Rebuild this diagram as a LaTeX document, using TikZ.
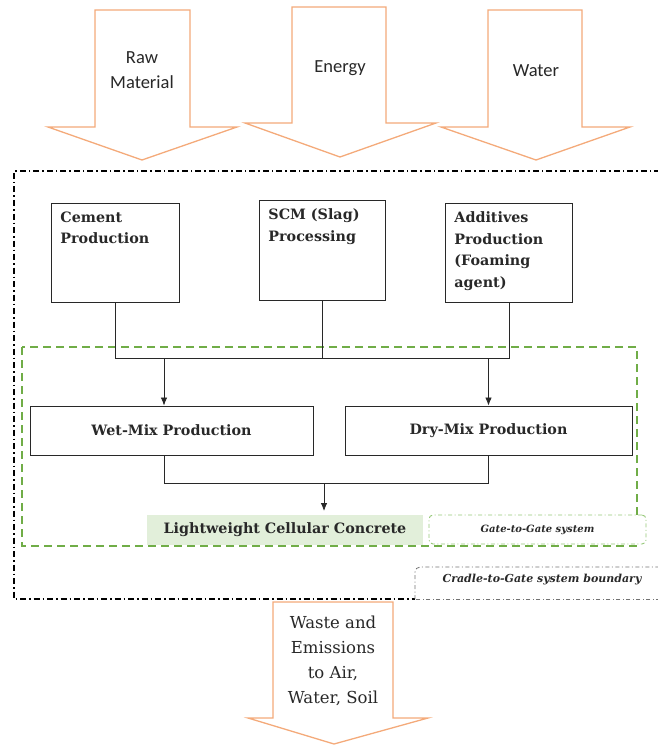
\documentclass[tikz,border=0pt]{standalone}
\usepackage{fontspec}
\setmainfont{DejaVu Serif}
\newfontfamily\arrowfont{Carlito}
\usetikzlibrary{arrows.meta,calc}
\definecolor{flow}{RGB}{244,170,122}
\definecolor{gategreen}{RGB}{112,173,71}
\definecolor{gatelabel}{RGB}{150,200,120}
\definecolor{lccfill}{RGB}{226,239,218}
\definecolor{ink}{RGB}{40,40,40}

\begin{document}
\begin{tikzpicture}[x=1pt,y=-1pt,
  flowarrow/.style={draw=flow,fill=white,line width=1.3pt,line join=miter},
  flowtext/.style={font=\arrowfont\fontsize{18.5}{24.5}\selectfont,align=center,text=ink},
  wastetext/.style={font=\fontsize{16.5}{25}\selectfont,align=center,text=ink},
  stage/.style={draw=ink,line width=0.9pt,anchor=north west,inner xsep=9pt,inner ysep=8pt,
    font=\bfseries\fontsize{14.3}{21.8}\selectfont,text=ink},
  mix/.style={draw=ink,line width=0.9pt,font=\bfseries\fontsize{14.3}{16}\selectfont,text=ink},
  link/.style={draw=ink,line width=0.8pt},
  feed/.style={link,-{Latex[length=8pt,width=6.5pt]}},
  cradlebound/.style={draw=black,line width=1.7pt,dash pattern=on 6pt off 3pt on 1.5pt off 3pt},
  cradlelabel/.style={draw=black!55,line width=0.8pt,dash pattern=on 4pt off 2.5pt on 1pt off 2.5pt},
  gatebound/.style={draw=gategreen,line width=1.7pt,dash pattern=on 8pt off 5pt},
  gatelabelbox/.style={draw=gatelabel,fill=white,line width=0.9pt,rounded corners=4pt,
    dash pattern=on 4pt off 2.5pt on 1pt off 2.5pt,minimum width=217pt,minimum height=29pt,
    font=\bfseries\itshape\fontsize{10}{12}\selectfont,text=ink},
  lcc/.style={fill=lccfill,minimum width=276pt,minimum height=30pt,
    font=\bfseries\fontsize{14.3}{16}\selectfont,text=ink}
]
\useasboundingbox (0,0) rectangle (657,751);

% system boundaries
\draw[cradlebound] (660,171) -- (14,171) -- (14,599) -- (415,599);
\draw[cradlelabel] (660,599) -- (415,599);
\draw[cradlelabel,rounded corners=5pt] (415,599) -- (415,567) -- (660,567);
\node[font=\bfseries\itshape\fontsize{11}{13}\selectfont,text=ink] (cradlename) at (542,580) {Cradle-to-Gate system boundary};

\draw[gatebound] (22,347) rectangle (637,546);
\node[gatelabelbox] (gatename) at (537.5,529.5) {Gate-to-Gate system};

% input flows
\draw[flowarrow] (95,10) -- (190,10) -- (190,127) -- (237,127) -- (142,160) -- (48,127) -- (95,127) -- cycle;
\draw[flowarrow] (292,7) -- (386,7) -- (386,123) -- (436,123) -- (340,157) -- (245,123) -- (292,123) -- cycle;
\draw[flowarrow] (488,10) -- (582,10) -- (582,127) -- (630,127) -- (536,160) -- (441,127) -- (488,127) -- cycle;
\node[flowtext] (raw) at (142,70) {Raw\\Material};
\node[flowtext] (energy) at (340,68) {Energy};
\node[flowtext] (water) at (536,71) {Water};

% output flow
\draw[flowarrow] (273,602) -- (393,602) -- (393,718) -- (428,718) -- (334,744) -- (248,718) -- (273,718) -- cycle;
\node[wastetext] (waste) at (333,661) {Waste and\\Emissions\\to Air,\\Water, Soil};

% upstream processes
\node[stage] (cem) at (51,203) {\parbox[t][83pt][t]{110pt}{\raggedright Cement\\Production}};
\node[stage] (scm) at (259,200) {\parbox[t][84pt][t]{108pt}{\raggedright SCM (Slag)\\Processing}};
\node[stage] (add) at (445,203) {\parbox[t][83pt][t]{109pt}{\raggedright Additives\\Production\\(Foaming\\agent)}};

% mixing
\node[mix,minimum width=283pt,minimum height=49pt] (wet) at (171.5,430.5) {Wet-Mix Production};
\node[mix,minimum width=287pt,minimum height=49pt] (dry) at (488.5,430.5) {Dry-Mix Production};

% product
\node[lcc] (lccnode) at (285,530) {Lightweight Cellular Concrete};

% connectors
\coordinate (bus) at (0,358);
\coordinate (collect) at (0,483);
\coordinate (wetin) at (164,0);
\coordinate (lccin) at (324,511);
\draw[link] (cem.south) |- (add.south |- bus) -- (add.south);
\draw[link] (scm.south) -- (scm.south |- bus);
\draw[feed] (wetin |- bus) -- (wetin |- wet.north);
\draw[feed] (dry.north |- bus) -- (dry.north);
\draw[link] (wetin |- wet.south) |- (dry.south |- collect) -- (dry.south);
\draw[feed] (lccin |- collect) -- (lccin);
\end{tikzpicture}
\end{document}
